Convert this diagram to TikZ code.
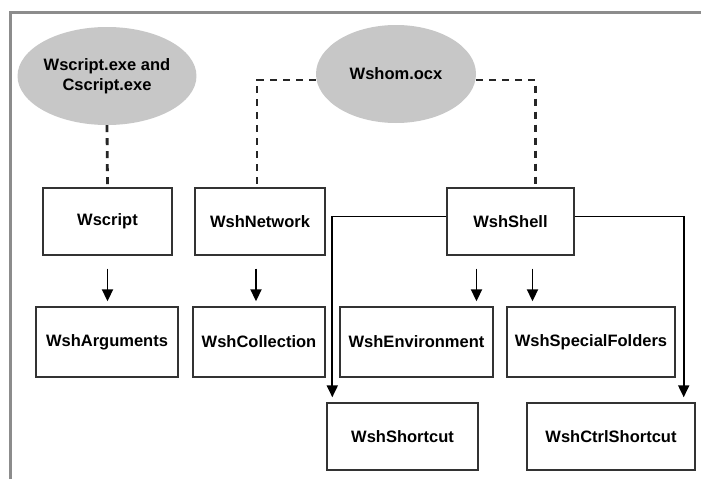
\documentclass[tikz,border=0pt]{standalone}
\usepackage{fontspec}
\setmainfont{Liberation Sans}
\usetikzlibrary{shapes.geometric,arrows.meta}
\begin{document}
\begin{tikzpicture}[x=1pt,y=-1pt,
  box/.style={draw=black!80,line width=1.4pt,rectangle,minimum height=67pt,inner sep=0pt,font=\fontsize{16.5}{19}\selectfont\bfseries},
  oval/.style={ellipse,fill=black!22,draw=none,minimum width=160pt,minimum height=98pt,inner sep=0pt,align=center,font=\fontsize{16.5}{20}\selectfont\bfseries},
  dline/.style={line width=2.8pt,black!85,dash pattern=on 7pt off 6pt},
  arr/.style={line width=1.9pt,black,-{Triangle[length=12pt,width=11pt]},shorten >=5pt}
]
\useasboundingbox (0,0) rectangle (701,479);
\fill[white] (0,0) rectangle (701,479);
\draw[black!45,line width=3pt] (10,479) -- (10,12) -- (701,12);

\node[oval] (cs) at (107,76) {Wscript.exe and\\Cscript.exe};
\node[oval] (om) at (396,74) {Wshom.ocx};

\node[box,minimum width=129pt] (ws) at (107.5,221.5) {Wscript};
\node[box,minimum width=130pt] (net) at (260,221.5) {WshNetwork};
\node[box,minimum width=127pt] (sh) at (510.5,221.5) {WshShell};

\node[box,minimum width=142pt,minimum height=70pt] (arg) at (107,342) {WshArguments};
\node[box,minimum width=132pt,minimum height=70pt] (col) at (259,342) {WshCollection};
\node[box,minimum width=153pt,minimum height=70pt] (env) at (416.5,342) {WshEnvironment};
\node[box,minimum width=168pt,minimum height=70pt] (spf) at (591,342) {WshSpecialFolders};

\node[box,minimum width=151pt] (sc) at (402.5,436.5) {WshShortcut};
\node[box,minimum width=168pt] (csc) at (611,436.5) {WshCtrlShortcut};

\draw[dline] (cs.south) -- (ws.north);
\draw[dline] ([yshift=-6pt]om.west) -| ([xshift=-3pt]net.north);
\draw[dline] ([yshift=-6pt]om.east) -| ([xshift=25pt]sh.north);

\coordinate (a1) at ([yshift=-13pt]ws.south);
\coordinate (a2) at ([xshift=-4pt,yshift=-13pt]net.south);
\coordinate (a3) at ([xshift=-34pt,yshift=-13pt]sh.south);
\coordinate (a4) at ([xshift=22pt,yshift=-13pt]sh.south);
\draw[arr] (a1) -- (a1 |- arg.north);
\draw[arr] (a2) -- (a2 |- col.north);
\draw[arr] (a3) -- (a3 |- env.north);
\draw[arr] (a4) -- (a4 |- spf.north);

\draw[arr] ([yshift=5pt]sh.west) -| ([xshift=6pt]sc.north west);
\draw[arr] ([yshift=5pt]sh.east) -| ([xshift=-12pt]csc.north east);
\end{tikzpicture}
\end{document}
